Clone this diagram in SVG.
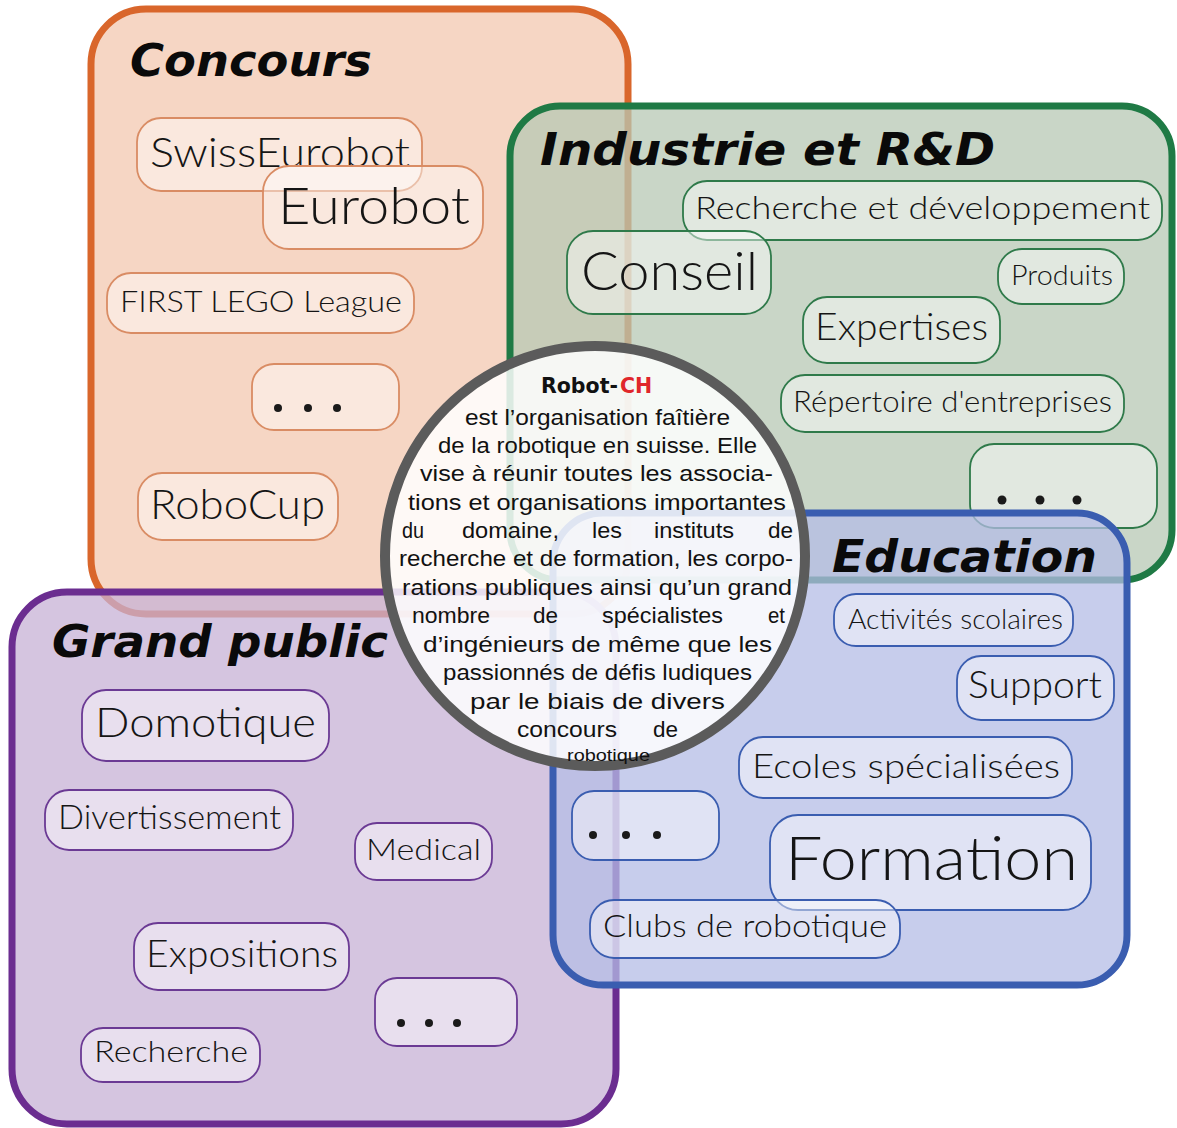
<svg xmlns="http://www.w3.org/2000/svg" width="1177" height="1128" viewBox="0 0 1177 1128">
<style>
.title{font-family:"DejaVu Sans","Liberation Sans",sans-serif;font-weight:bold;font-style:italic;fill:#0a0a0a}
.lbl{font-family:Lato,"Open Sans","Liberation Sans",sans-serif;font-weight:300;fill:#151515}
.body{font-family:"Liberation Sans",Arial,sans-serif;font-size:22.5px;fill:#111}
.rc{font-family:"DejaVu Sans","Liberation Sans",sans-serif;font-weight:bold;font-size:20.5px}
.box{stroke-width:7}
.nd{fill:#ffffff;fill-opacity:0.45;stroke-width:1.8}
.dot{fill:#1a1a1a}
#concours .box{fill:#f3c8b0;fill-opacity:0.75;stroke:#d9662b}
#concours .nd{stroke:#d98c64}
#industrie .box{fill:#b7c8b4;fill-opacity:0.75;stroke:#1f7a45}
#industrie .nd{stroke:#2f7a4a}
#grandpublic .box{fill:#c7b2d6;fill-opacity:0.75;stroke:#6b2d90}
#grandpublic .nd{stroke:#6b3a94}
#education .box{fill:#b4bce6;fill-opacity:0.75;stroke:#3a5db0}
#education .nd{stroke:#3a5db0}
</style>
<rect width="1177" height="1128" fill="#ffffff"/>

<g id="concours">
  <rect class="box" x="91" y="9" width="537" height="605" rx="55"/>
  <text class="title" x="130" y="76" font-size="44" textLength="242" lengthAdjust="spacingAndGlyphs">Concours</text>
  <g id="n-swisseurobot"><rect class="nd" x="137" y="118" width="285" height="73" rx="24"/><text class="lbl" x="150" y="167" font-size="42" textLength="260" lengthAdjust="spacingAndGlyphs">SwissEurobot</text></g>
  <g id="n-eurobot"><rect class="nd" x="263" y="166" width="220" height="83" rx="26"/><text class="lbl" x="278" y="224" font-size="52" textLength="192" lengthAdjust="spacingAndGlyphs">Eurobot</text></g>
  <g id="n-fll"><rect class="nd" x="107" y="273" width="307" height="60" rx="24"/><text class="lbl" x="120" y="312" font-size="30" textLength="282" lengthAdjust="spacingAndGlyphs">FIRST LEGO League</text></g>
  <g id="n-c-more"><rect class="nd" x="252" y="364" width="147" height="66" rx="22"/><circle class="dot" cx="278" cy="408" r="4"/><circle class="dot" cx="308" cy="408" r="4"/><circle class="dot" cx="337" cy="408" r="4"/></g>
  <g id="n-robocup"><rect class="nd" x="138" y="473" width="200" height="67" rx="24"/><text class="lbl" x="150" y="519" font-size="41" textLength="175" lengthAdjust="spacingAndGlyphs">RoboCup</text></g>
</g>

<g id="industrie">
  <rect class="box" x="510" y="106" width="662" height="474" rx="50"/>
  <text class="title" x="540" y="165" font-size="44" textLength="455" lengthAdjust="spacingAndGlyphs">Industrie et R&amp;D</text>
  <g id="n-rd"><rect class="nd" x="683" y="181" width="479" height="59" rx="24"/><text class="lbl" x="695" y="219" font-size="31" textLength="455" lengthAdjust="spacingAndGlyphs">Recherche et développement</text></g>
  <g id="n-conseil"><rect class="nd" x="567" y="231" width="204" height="83" rx="26"/><text class="lbl" x="581" y="290" font-size="54" textLength="177" lengthAdjust="spacingAndGlyphs">Conseil</text></g>
  <g id="n-produits"><rect class="nd" x="998" y="249" width="126" height="55" rx="24"/><text class="lbl" x="1011" y="285" font-size="27" textLength="102" lengthAdjust="spacingAndGlyphs">Produits</text></g>
  <g id="n-expertises"><rect class="nd" x="803" y="297" width="197" height="66" rx="24"/><text class="lbl" x="815" y="340" font-size="38" textLength="173" lengthAdjust="spacingAndGlyphs">Expertises</text></g>
  <g id="n-repertoire"><rect class="nd" x="781" y="375" width="343" height="57" rx="24"/><text class="lbl" x="793" y="412" font-size="29" textLength="319" lengthAdjust="spacingAndGlyphs">Répertoire d'entreprises</text></g>
  <g id="n-i-more"><rect class="nd" x="970" y="444" width="187" height="84" rx="24"/><circle class="dot" cx="1002" cy="500" r="4.5"/><circle class="dot" cx="1040" cy="500" r="4.5"/><circle class="dot" cx="1077" cy="500" r="4.5"/></g>
</g>

<g id="grandpublic">
  <rect class="box" x="12" y="592" width="604" height="532" rx="55"/>
  <text class="title" x="52" y="657" font-size="44" textLength="336" lengthAdjust="spacingAndGlyphs">Grand public</text>
  <g id="n-domotique"><rect class="nd" x="82" y="690" width="247" height="71" rx="24"/><text class="lbl" x="95" y="737" font-size="42" textLength="221" lengthAdjust="spacingAndGlyphs">Domotique</text></g>
  <g id="n-divertissement"><rect class="nd" x="45" y="790" width="248" height="60" rx="24"/><text class="lbl" x="58" y="829" font-size="33" textLength="223" lengthAdjust="spacingAndGlyphs">Divertissement</text></g>
  <g id="n-medical"><rect class="nd" x="355" y="823" width="137" height="57" rx="22"/><text class="lbl" x="366" y="860" font-size="29" textLength="115" lengthAdjust="spacingAndGlyphs">Medical</text></g>
  <g id="n-expositions"><rect class="nd" x="134" y="923" width="215" height="67" rx="24"/><text class="lbl" x="146" y="967" font-size="38" textLength="192" lengthAdjust="spacingAndGlyphs">Expositions</text></g>
  <g id="n-g-more"><rect class="nd" x="375" y="978" width="142" height="68" rx="22"/><circle class="dot" cx="401" cy="1023" r="4"/><circle class="dot" cx="429" cy="1023" r="4"/><circle class="dot" cx="457" cy="1023" r="4"/></g>
  <g id="n-recherche"><rect class="nd" x="81" y="1028" width="179" height="54" rx="22"/><text class="lbl" x="94" y="1062" font-size="29" textLength="154" lengthAdjust="spacingAndGlyphs">Recherche</text></g>
</g>

<g id="education">
  <rect class="box" x="553" y="513" width="574" height="472" rx="50"/>
  <text class="title" x="832" y="572" font-size="44" textLength="265" lengthAdjust="spacingAndGlyphs">Education</text>
  <g id="n-activites"><rect class="nd" x="834" y="594" width="239" height="52" rx="22"/><text class="lbl" x="848" y="629" font-size="27" textLength="215" lengthAdjust="spacingAndGlyphs">Activités scolaires</text></g>
  <g id="n-support"><rect class="nd" x="957" y="656" width="157" height="64" rx="24"/><text class="lbl" x="968" y="698" font-size="38" textLength="134" lengthAdjust="spacingAndGlyphs">Support</text></g>
  <g id="n-ecoles"><rect class="nd" x="739" y="737" width="333" height="61" rx="24"/><text class="lbl" x="752" y="778" font-size="33" textLength="308" lengthAdjust="spacingAndGlyphs">Ecoles spécialisées</text></g>
  <g id="n-e-more"><rect class="nd" x="572" y="791" width="147" height="69" rx="22"/><circle class="dot" cx="593" cy="835" r="4"/><circle class="dot" cx="626" cy="835" r="4"/><circle class="dot" cx="657" cy="835" r="4"/></g>
  <g id="n-formation"><rect class="nd" x="770" y="815" width="321" height="95" rx="28"/><text class="lbl" x="785" y="880" font-size="62" textLength="293" lengthAdjust="spacingAndGlyphs">Formation</text></g>
  <g id="n-clubs"><rect class="nd" x="590" y="900" width="310" height="58" rx="24"/><text class="lbl" x="603" y="937" font-size="31" textLength="284" lengthAdjust="spacingAndGlyphs">Clubs de robotique</text></g>
</g>

<g id="robotch">
  <circle cx="595" cy="556" r="210" fill="#ffffff" fill-opacity="0.84" stroke="#5b5b5b" stroke-width="10"/>
  <text class="rc" x="541" y="393" fill="#111">Robot-</text>
  <text class="rc" x="620" y="393" fill="#e0262a">CH</text>
  <g class="body">
    <text x="465" y="425" textLength="265" lengthAdjust="spacingAndGlyphs">est l’organisation faîtière</text>
    <text x="438" y="453" textLength="319" lengthAdjust="spacingAndGlyphs">de la robotique en suisse. Elle</text>
    <text x="420" y="481" textLength="353" lengthAdjust="spacingAndGlyphs">vise à réunir toutes les associa-</text>
    <text x="408" y="510" textLength="378" lengthAdjust="spacingAndGlyphs">tions et organisations importantes</text>
    <text x="402" y="538" textLength="22" lengthAdjust="spacingAndGlyphs">du</text><text x="462" y="538" textLength="97" lengthAdjust="spacingAndGlyphs">domaine,</text><text x="592" y="538" textLength="30" lengthAdjust="spacingAndGlyphs">les</text><text x="654" y="538" textLength="80" lengthAdjust="spacingAndGlyphs">instituts</text><text x="768" y="538" textLength="25" lengthAdjust="spacingAndGlyphs">de</text>
    <text x="399" y="566" textLength="394" lengthAdjust="spacingAndGlyphs">recherche et de formation, les corpo-</text>
    <text x="402" y="595" textLength="390" lengthAdjust="spacingAndGlyphs">rations publiques ainsi qu’un grand</text>
    <text x="412" y="623" textLength="78" lengthAdjust="spacingAndGlyphs">nombre</text><text x="533" y="623" textLength="25" lengthAdjust="spacingAndGlyphs">de</text><text x="602" y="623" textLength="121" lengthAdjust="spacingAndGlyphs">spécialistes</text><text x="768" y="623" textLength="17" lengthAdjust="spacingAndGlyphs">et</text>
    <text x="423" y="652" textLength="349" lengthAdjust="spacingAndGlyphs">d’ingénieurs de même que les</text>
    <text x="443" y="680" textLength="309" lengthAdjust="spacingAndGlyphs">passionnés de défis ludiques</text>
    <text x="470" y="709" textLength="255" lengthAdjust="spacingAndGlyphs">par le biais de divers</text>
    <text x="517" y="737" textLength="100" lengthAdjust="spacingAndGlyphs">concours</text><text x="653" y="737" textLength="25" lengthAdjust="spacingAndGlyphs">de</text>
    <text x="567" y="761" font-size="16" textLength="83" lengthAdjust="spacingAndGlyphs">robotique</text>
  </g>
</g>
</svg>
